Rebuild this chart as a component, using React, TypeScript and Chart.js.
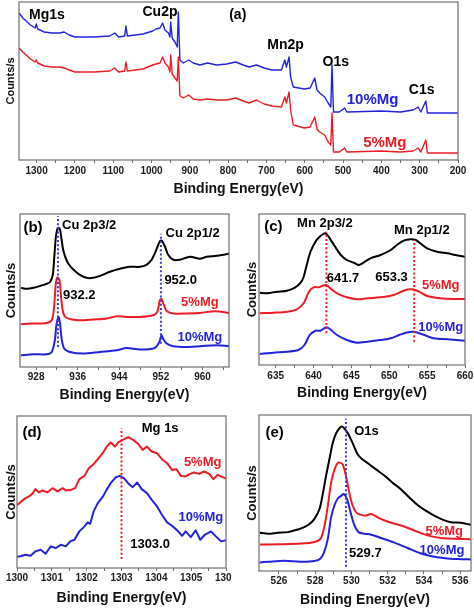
import React, { useEffect, useRef } from "react";
import { Chart, registerables } from "chart.js";

Chart.register(...registerables);

const FONT = '"Liberation Sans", Arial, Helvetica, sans-serif';
const RED = "#ec1c24";
const BLUE = "#2323dc";
const BLACK = "#000000";
const MARK_BLUE = "#3a3ad6";

type Pt = [number, number];

// ---------- (a) survey spectra ----------
const surveyTicks = [1300, 1200, 1100, 1000, 900, 800, 700, 600, 500, 400, 300, 200];
const surveyMinor = [1250, 1150, 1050, 950, 850, 750, 650, 550, 450, 350, 250];
const surveyMg10: Pt[] = [
  [1346, 147], [1336, 142], [1316, 135], [1304, 132], [1301, 136], [1297, 131], [1280, 128], [1260, 127],
  [1240, 127], [1228, 128], [1215, 125], [1200, 123], [1150, 123], [1109, 124], [1096, 127], [1086, 123],
  [1070, 124], [1067, 134], [1063, 124], [1022, 126], [997, 129], [988, 131], [978, 132], [971, 137],
  [965, 130], [956, 127], [952, 123], [950, 138], [946, 122], [939, 118], [933, 113], [930, 148],
  [926, 100], [917, 97], [903, 100], [891, 97], [874, 95], [854, 97], [830, 95], [804, 96], [780, 98],
  [761, 95], [745, 93], [726, 95], [706, 92], [686, 90], [661, 90], [652, 100], [648, 93], [641, 103],
  [637, 83], [630, 73], [601, 71], [586, 72], [574, 82], [568, 70], [561, 67], [548, 63], [539, 57],
  [532, 53], [529, 95], [525, 48], [510, 48], [496, 52], [490, 48], [400, 49], [350, 48], [317, 50],
  [304, 53], [297, 48], [284, 59], [280, 47], [200, 47],
];
const surveyMg5: Pt[] = [
  [1346, 112], [1336, 108], [1316, 101], [1304, 98], [1301, 100], [1297, 97], [1280, 94], [1260, 93],
  [1240, 93], [1228, 92], [1215, 90], [1200, 88], [1150, 88], [1109, 89], [1096, 92], [1086, 88],
  [1070, 89], [1067, 98], [1063, 89], [1022, 91], [997, 95], [988, 96], [978, 97], [971, 103],
  [965, 97], [956, 93], [952, 88], [950, 105], [946, 86], [939, 82], [933, 79], [930, 103],
  [926, 64], [917, 62], [903, 65], [891, 61], [874, 60], [854, 61], [830, 60], [804, 60], [780, 62],
  [761, 59], [745, 57], [726, 60], [706, 56], [686, 54], [661, 53], [652, 63], [648, 57], [641, 68],
  [637, 50], [630, 35], [601, 32], [586, 33], [574, 43], [568, 31], [561, 28], [548, 25], [539, 18],
  [532, 15], [529, 47], [525, 8], [510, 8], [496, 12], [490, 8], [400, 9], [350, 8], [317, 9],
  [304, 12], [297, 8], [284, 20], [280, 7], [200, 7],
];

// ---------- (b) Cu 2p ----------
const cuTicks = [928, 936, 944, 952, 960];
const cuMinor = [932, 940, 948, 956, 964];
const cuBare: Pt[] = [
  [925.1, 79], [926.2, 78], [927.5, 79], [928.8, 81], [930.0, 83], [930.7, 85], [931.2, 92], [931.5, 110],
  [931.8, 130], [932.1, 138], [932.3, 139], [932.6, 137], [932.9, 127], [933.2, 117], [933.6, 110],
  [934.2, 103], [935.2, 97], [936.4, 92], [937.7, 89], [939.0, 89], [940.3, 91], [942.2, 95], [944.1, 98],
  [946.0, 100], [948.0, 100], [949.2, 102], [950.2, 107], [950.8, 113], [951.5, 122], [951.9, 126],
  [952.2, 126], [952.8, 120], [953.4, 112], [954.4, 107], [955.6, 107], [957.6, 110], [959.5, 108],
  [960.8, 110], [962.7, 111], [965.1, 113],
];
const cuMg5: Pt[] = [
  [925.1, 42.7], [927.5, 43.4], [930.0, 44], [931.0, 46.7], [931.45, 60], [931.8, 83.4], [932.1, 89.4],
  [932.5, 86.7], [932.8, 70], [933.1, 56.7], [933.6, 50], [934.9, 47.4], [936.4, 46.7], [939.0, 47.4],
  [941.6, 48.4], [943.5, 50.7], [945.4, 50], [948.0, 50], [950.5, 51.7], [951.3, 55], [951.8, 66.7],
  [952.1, 68], [952.6, 61.7], [953.1, 56], [954.4, 53.4], [956.9, 53.4], [959.5, 54], [962.4, 55.7],
  [965.1, 54],
];
const cuMg10: Pt[] = [
  [925.1, 11.7], [927.5, 12.7], [930.0, 12.7], [931.0, 15], [931.6, 26.7], [931.9, 41.7], [932.3, 50],
  [932.6, 43.4], [932.9, 28.4], [933.4, 18.4], [934.5, 15], [937.0, 13.4], [940.3, 15], [943.5, 16.7],
  [945.4, 19], [948.0, 17.4], [950.8, 19], [951.7, 25], [952.1, 31.7], [952.4, 28.4], [953.1, 23.4],
  [954.4, 20.7], [956.9, 20], [959.5, 20.7], [962.7, 21.7], [965.1, 21],
];

// ---------- (c) Mn 2p ----------
const mnTicks = [635, 640, 645, 650, 655, 660];
const mnMinor = [637.5, 642.5, 647.5, 652.5, 657.5];
const mnBare: Pt[] = [
  [632.9, 72.3], [633.85, 71.7], [635.2, 73.3], [636.5, 74.3], [637.6, 77.7], [638.3, 82.3], [638.7, 88.3],
  [639.1, 100], [639.6, 113.3], [640.25, 123.3], [640.8, 128.3], [641.3, 131], [641.6, 131.7], [642.0, 128.3],
  [642.7, 120], [643.6, 110], [644.4, 105], [645.3, 102.3], [646.0, 100], [646.6, 102.3], [647.5, 106.7],
  [648.85, 110], [650.2, 115], [651.0, 120], [651.9, 124.3], [652.8, 125.7], [653.5, 125], [654.1, 121.7],
  [655.0, 116.7], [656.3, 113.3], [657.7, 111.7], [658.7, 110], [660.0, 108.3],
];
const mnMg5: Pt[] = [
  [632.9, 51.7], [634.7, 52.3], [636.5, 53.3], [637.8, 55.7], [638.7, 61.7], [639.4, 73.3], [640.0, 77.7],
  [640.7, 77.7], [641.1, 79], [641.7, 80], [642.2, 76.7], [643.1, 71.7], [644.4, 67.7], [645.75, 65.7],
  [647.1, 66.7], [648.85, 67.7], [650.6, 70], [651.9, 74.3], [652.8, 75.7], [653.7, 74.3], [655.0, 69],
  [656.8, 66.7], [658.5, 66], [660.0, 66],
];
const mnMg10: Pt[] = [
  [632.9, 11], [634.7, 12.3], [636.5, 13.3], [638.0, 15], [638.8, 20], [639.5, 30], [640.25, 34.3],
  [640.9, 34.3], [641.7, 37.7], [642.2, 35.7], [643.1, 30], [644.4, 25], [645.75, 22.3], [647.1, 23.3],
  [648.85, 25], [650.2, 26.7], [651.3, 30], [652.2, 32.3], [653.25, 33.3], [654.35, 30.7], [655.9, 26.7],
  [657.7, 25.7], [660.0, 24.3],
];

// ---------- (d) Mg 1s ----------
const mgTicks = [1300, 1301, 1302, 1303, 1304, 1305, 1306];
const mgMinor = [1300.5, 1301.5, 1302.5, 1303.5, 1304.5, 1305.5];
const mgMg5: Pt[] = [
  [1300.0, 63], [1300.2, 69], [1300.34, 71.7], [1300.44, 74.3], [1300.53, 79], [1300.63, 75.7],
  [1300.73, 77.7], [1300.87, 75.7], [1301.02, 80], [1301.16, 76.7], [1301.31, 80], [1301.4, 77.7],
  [1301.55, 78.3], [1301.67, 80], [1301.79, 89], [1301.94, 92.3], [1302.06, 100], [1302.18, 103.3],
  [1302.32, 109], [1302.47, 115.7], [1302.58, 121.7], [1302.69, 125.7], [1302.81, 121.7], [1302.9, 125.7],
  [1303.03, 128.3], [1303.19, 131], [1303.34, 128.3], [1303.48, 124.3], [1303.61, 118.3], [1303.73, 121.7],
  [1303.87, 116.7], [1304.02, 115], [1304.16, 109], [1304.31, 105], [1304.45, 98.3], [1304.58, 99],
  [1304.7, 92.3], [1304.84, 91.7], [1304.97, 94.3], [1305.08, 95.7], [1305.23, 94.3], [1305.37, 96.7],
  [1305.52, 94.3], [1305.64, 89], [1305.76, 93.3], [1305.91, 91], [1306.05, 89],
];
const mgMg10: Pt[] = [
  [1299.95, 11], [1300.1, 11.7], [1300.24, 13.3], [1300.39, 12.3], [1300.53, 16.7], [1300.68, 18.3],
  [1300.82, 14.3], [1300.97, 21.7], [1301.11, 20], [1301.26, 23.3], [1301.4, 21.7], [1301.53, 26.7],
  [1301.65, 28.3], [1301.79, 36.7], [1301.94, 41.7], [1302.03, 45.7], [1302.1, 44.3], [1302.2, 56.7],
  [1302.32, 65], [1302.47, 71.7], [1302.57, 78.3], [1302.69, 85], [1302.84, 91], [1302.95, 92.3],
  [1303.07, 90], [1303.19, 85], [1303.32, 81], [1303.45, 85.7], [1303.58, 79], [1303.73, 75],
  [1303.87, 68.3], [1304.02, 61.7], [1304.16, 53.3], [1304.31, 45.7], [1304.45, 42.3], [1304.6, 37.7],
  [1304.74, 32.3], [1304.84, 36.7], [1304.99, 31], [1305.13, 37.7], [1305.26, 28.3], [1305.39, 33.3],
  [1305.57, 36.7], [1305.71, 31.7], [1305.86, 26.7], [1306.05, 28.3],
];

// ---------- (e) O 1s ----------
const oTicks = [526, 528, 530, 532, 534, 536];
const oMinor = [527, 529, 531, 533, 535];
const oBare: Pt[] = [
  [524.94, 38.7], [525.4, 37.7], [525.95, 38.7], [526.5, 39.3], [527.05, 42], [527.4, 44.3], [527.7, 47.7],
  [527.96, 52.7], [528.24, 62.7], [528.4, 76], [528.6, 96], [528.8, 114.3], [528.97, 129.3], [529.16, 139.3],
  [529.34, 144.3], [529.47, 146], [529.6, 144.3], [529.8, 139.3], [530.07, 129.3], [530.35, 117.7],
  [530.62, 112.7], [531.0, 107.7], [531.36, 102.7], [531.8, 96.7], [532.27, 89.3], [532.73, 82.7],
  [533.2, 74.3], [533.65, 66.7], [534.1, 61], [534.57, 56], [535.03, 52], [535.49, 49.3], [536.04, 48.7],
  [536.6, 46.7],
];
const oMg5: Pt[] = [
  [524.94, 26.7], [525.95, 27], [527.23, 27.7], [527.96, 29.3], [528.3, 32.7], [528.5, 44.3], [528.7, 66],
  [528.88, 89.3], [529.07, 102.7], [529.25, 109.3], [529.4, 109.3], [529.52, 107.7], [529.7, 96],
  [529.9, 77.7], [530.07, 66], [530.26, 59.3], [530.53, 56.7], [530.8, 56], [531.09, 57.7], [531.45, 54.3],
  [532.0, 50], [532.73, 46], [533.47, 41], [534.2, 36], [534.94, 33.3], [535.67, 32.7], [536.6, 32],
];
const oMg10: Pt[] = [
  [524.94, 8.7], [525.4, 9.3], [526.3, 10.3], [527.2, 9.3], [527.96, 10], [528.3, 12.7], [528.5, 19.3],
  [528.7, 32.7], [528.88, 54.3], [529.07, 66.7], [529.25, 73.3], [529.43, 76], [529.58, 77.7], [529.76, 72.7],
  [529.95, 59.3], [530.17, 46], [530.39, 39.3], [530.72, 37.7], [531.09, 36.7], [531.64, 33.3],
  [532.37, 28.7], [533.1, 23.3], [533.84, 17.7], [534.57, 14.3], [535.3, 12.7], [536.04, 12], [536.6, 11.7],
];

type Label = { text: string; x: number; y: number; color: string; size: number };
type Marker = { x: number; y0: number; y1: number; color: string };
type Series = { label: string; data: Pt[]; color: string; width: number; tension: number };

interface PanelSpec {
  id: string;
  canvas: { left: number; top: number; width: number; height: number };
  plot: { L: number; T: number; R: number; B: number };
  xMin: number;
  xMax: number;
  reverse: boolean;
  yMax: number;
  major: number[];
  minor: number[];
  tickPad: number;
  xTitleY: number;
  yTitleX: number;
  yTitleSize: number;
  series: Series[];
  labels: Label[];
  markers: Marker[];
}

const PANELS: PanelSpec[] = [
  {
    id: "a",
    canvas: { left: 0, top: 0, width: 474, height: 200 },
    plot: { L: 19, T: 2, R: 458, B: 160 },
    xMin: 200, xMax: 1346, reverse: true, yMax: 158,
    major: surveyTicks, minor: surveyMinor, tickPad: 2, xTitleY: 189, yTitleX: 11, yTitleSize: 11,
    series: [
      { label: "10%Mg", data: surveyMg10, color: BLUE, width: 1.4, tension: 0 },
      { label: "5%Mg", data: surveyMg5, color: RED, width: 1.4, tension: 0 },
    ],
    labels: [
      { text: "Mg1s", x: 1273, y: 145, color: BLACK, size: 14 },
      { text: "Cu2p", x: 978, y: 148, color: BLACK, size: 14 },
      { text: "(a)", x: 775, y: 145, color: BLACK, size: 14 },
      { text: "Mn2p", x: 650, y: 115, color: BLACK, size: 14 },
      { text: "O1s", x: 519, y: 98, color: BLACK, size: 14 },
      { text: "10%Mg", x: 423, y: 60, color: BLUE, size: 15 },
      { text: "C1s", x: 295, y: 70, color: BLACK, size: 14 },
      { text: "5%Mg", x: 391, y: 17, color: RED, size: 15 },
    ],
    markers: [],
  },
  {
    id: "b",
    canvas: { left: 0, top: 200, width: 236, height: 205 },
    plot: { L: 20, T: 214, R: 229, B: 367 },
    xMin: 924.9, xMax: 965.1, reverse: false, yMax: 152.7,
    major: cuTicks, minor: cuMinor, tickPad: 1, xTitleY: 395, yTitleX: 11, yTitleSize: 13,
    series: [
      { label: "undoped", data: cuBare, color: BLACK, width: 2, tension: 0.3 },
      { label: "5%Mg", data: cuMg5, color: RED, width: 2, tension: 0.3 },
      { label: "10%Mg", data: cuMg10, color: BLUE, width: 2, tension: 0.3 },
    ],
    labels: [
      { text: "(b)", x: 927.4, y: 138.7, color: BLACK, size: 15 },
      { text: "Cu 2p3/2", x: 938.2, y: 141.7, color: BLACK, size: 13 },
      { text: "Cu 2p1/2", x: 958.1, y: 133.7, color: BLACK, size: 13 },
      { text: "932.2", x: 936.3, y: 71.7, color: BLACK, size: 13 },
      { text: "952.0", x: 955.8, y: 86.7, color: BLACK, size: 13 },
      { text: "5%Mg", x: 959.5, y: 64.7, color: RED, size: 13 },
      { text: "10%Mg", x: 959.5, y: 29.7, color: BLUE, size: 13 },
    ],
    markers: [
      { x: 932.2, y0: 20, y1: 150.7, color: MARK_BLUE },
      { x: 952.0, y0: 23.3, y1: 133, color: MARK_BLUE },
    ],
  },
  {
    id: "c",
    canvas: { left: 238, top: 200, width: 236, height: 205 },
    plot: { L: 259, T: 214, R: 465, B: 365 },
    xMin: 632.8, xMax: 660, reverse: false, yMax: 151,
    major: mnTicks, minor: mnMinor, tickPad: 2, xTitleY: 393, yTitleX: 252, yTitleSize: 13,
    series: [
      { label: "undoped", data: mnBare, color: BLACK, width: 2, tension: 0.3 },
      { label: "5%Mg", data: mnMg5, color: RED, width: 2, tension: 0.3 },
      { label: "10%Mg", data: mnMg10, color: BLUE, width: 2, tension: 0.3 },
    ],
    labels: [
      { text: "(c)", x: 634.7, y: 138, color: BLACK, size: 15 },
      { text: "Mn 2p3/2", x: 641.5, y: 142, color: BLACK, size: 13 },
      { text: "Mn 2p1/2", x: 654.3, y: 135, color: BLACK, size: 13 },
      { text: "641.7", x: 643.9, y: 87, color: BLACK, size: 13 },
      { text: "653.3", x: 650.3, y: 88, color: BLACK, size: 13 },
      { text: "5%Mg", x: 656.8, y: 80, color: RED, size: 13 },
      { text: "10%Mg", x: 656.8, y: 38, color: BLUE, size: 13 },
    ],
    markers: [
      { x: 641.7, y0: 31.7, y1: 133.3, color: RED },
      { x: 653.3, y0: 23.3, y1: 125, color: RED },
    ],
  },
  {
    id: "d",
    canvas: { left: 0, top: 405, width: 231, height: 206 },
    plot: { L: 17, T: 416, R: 226, B: 568 },
    xMin: 1300, xMax: 1306, reverse: false, yMax: 152.3,
    major: mgTicks, minor: mgMinor, tickPad: 1, xTitleY: 598, yTitleX: 11, yTitleSize: 13,
    series: [
      { label: "5%Mg", data: mgMg5, color: RED, width: 2, tension: 0 },
      { label: "10%Mg", data: mgMg10, color: BLUE, width: 2, tension: 0 },
    ],
    labels: [
      { text: "(d)", x: 1300.43, y: 135.3, color: BLACK, size: 15 },
      { text: "Mg 1s", x: 1304.11, y: 140.3, color: BLACK, size: 13 },
      { text: "5%Mg", x: 1305.33, y: 105.3, color: RED, size: 13 },
      { text: "10%Mg", x: 1305.28, y: 50.3, color: BLUE, size: 13 },
      { text: "1303.0", x: 1303.82, y: 23.3, color: BLACK, size: 13 },
    ],
    markers: [{ x: 1303.0, y0: 9, y1: 140, color: RED }],
  },
  {
    id: "e",
    canvas: { left: 238, top: 405, width: 236, height: 206 },
    plot: { L: 259, T: 415, R: 471, B: 571 },
    xMin: 524.9, xMax: 536.6, reverse: false, yMax: 157.7,
    major: oTicks, minor: oMinor, tickPad: 1, xTitleY: 600, yTitleX: 252, yTitleSize: 13,
    series: [
      { label: "undoped", data: oBare, color: BLACK, width: 2, tension: 0.3 },
      { label: "5%Mg", data: oMg5, color: RED, width: 2, tension: 0.3 },
      { label: "10%Mg", data: oMg10, color: BLUE, width: 2, tension: 0.3 },
    ],
    labels: [
      { text: "(e)", x: 525.76, y: 139.7, color: BLACK, size: 15 },
      { text: "O1s", x: 530.83, y: 140.7, color: BLACK, size: 13 },
      { text: "5%Mg", x: 535.12, y: 39.7, color: RED, size: 13 },
      { text: "10%Mg", x: 535.0, y: 20.7, color: BLUE, size: 13 },
      { text: "529.7", x: 530.77, y: 17.7, color: BLACK, size: 13 },
    ],
    markers: [{ x: 529.7, y0: 4.3, y1: 154, color: MARK_BLUE }],
  },
];

function Panel({ spec }: { spec: PanelSpec }) {
  const ref = useRef<HTMLCanvasElement | null>(null);
  const c = spec.canvas;
  useEffect(() => {
    const p = spec.plot;
    const xAxisH = c.top + c.height - p.B;
    const yAxisW = p.L - c.left;
    const titleLH = 14 * 1.2;
    const yLH = spec.yTitleSize * 1.2;
    const ticksAll = [...spec.major, ...spec.minor].sort((a, b) => a - b);

    const decor = {
      id: "decor_" + spec.id,
      afterDatasetsDraw(chart: any) {
        const { ctx, chartArea: a, scales } = chart;
        const xs = scales.x;
        const ys = scales.y;
        ctx.save();
        ctx.lineWidth = 2;
        ctx.setLineDash([2, 2.2]);
        for (const m of spec.markers) {
          const px = xs.getPixelForValue(m.x);
          ctx.strokeStyle = m.color;
          ctx.beginPath();
          ctx.moveTo(px, ys.getPixelForValue(m.y0));
          ctx.lineTo(px, ys.getPixelForValue(m.y1));
          ctx.stroke();
        }
        ctx.setLineDash([]);
        ctx.strokeStyle = "#6e6e6e";
        ctx.lineWidth = 1.2;
        ctx.strokeRect(a.left, a.top, a.right - a.left, a.bottom - a.top);
        ctx.textAlign = "center";
        ctx.textBaseline = "middle";
        for (const l of spec.labels) {
          ctx.font = `bold ${l.size}px ${FONT}`;
          ctx.fillStyle = l.color;
          ctx.fillText(l.text, xs.getPixelForValue(l.x), ys.getPixelForValue(l.y));
        }
        ctx.restore();
      },
    };

    const chart = new Chart(ref.current as HTMLCanvasElement, {
      type: "line",
      data: {
        datasets: spec.series.map((s) => ({
          label: s.label,
          data: s.data.map(([x, y]) => ({ x, y })),
          borderColor: s.color,
          backgroundColor: s.color,
          borderWidth: s.width,
          pointRadius: 0,
          tension: s.tension,
          fill: false,
          borderJoinStyle: "round" as const,
        })),
      },
      options: {
        responsive: false,
        animation: false,
        layout: { padding: { left: 0, top: p.T - c.top, right: c.left + c.width - p.R, bottom: 0 } },
        plugins: { legend: { display: false }, tooltip: { enabled: false } },
        scales: {
          x: {
            type: "linear",
            min: spec.xMin,
            max: spec.xMax,
            reverse: spec.reverse,
            afterBuildTicks: (s: any) => {
              s.ticks = ticksAll.map((v) => ({ value: v }));
            },
            afterFit: (s: any) => {
              s.height = xAxisH;
              s.paddingLeft = 0;
              s.paddingRight = 0;
            },
            ticks: {
              autoSkip: false,
              maxRotation: 0,
              padding: spec.tickPad,
              color: "#1a1a1a",
              font: { family: FONT, size: 10, weight: "bold", lineHeight: 1.2 },
              callback: (v: any) => (spec.major.includes(Number(v)) ? String(v) : ""),
            },
            grid: { drawOnChartArea: false, drawTicks: true, tickLength: 3, color: "#6e6e6e", tickColor: "#6e6e6e" },
            border: { display: false },
            title: {
              display: true,
              text: "Binding Energy(eV)",
              color: "#111",
              font: { family: FONT, size: 14, weight: "bold", lineHeight: 1.2 },
              padding: { top: 0, bottom: c.top + c.height - spec.xTitleY - titleLH / 2 },
            },
          },
          y: {
            type: "linear",
            min: 0,
            max: spec.yMax,
            afterFit: (s: any) => {
              s.width = yAxisW;
            },
            ticks: { display: false },
            grid: { display: false },
            border: { display: false },
            title: {
              display: true,
              text: "Counts/s",
              color: "#111",
              font: { family: FONT, size: spec.yTitleSize, weight: "bold", lineHeight: 1.2 },
              padding: { top: spec.yTitleX - c.left - yLH / 2, bottom: 0 },
            },
          },
        },
      } as any,
      plugins: [decor],
    });
    return () => chart.destroy();
  }, [spec]);

  return (
    <canvas
      ref={ref}
      width={c.width}
      height={c.height}
      style={{ position: "absolute", left: c.left, top: c.top, width: c.width, height: c.height }}
    />
  );
}

export default function App() {
  return (
    <div
      style={{
        position: "absolute",
        left: 0,
        top: 0,
        width: 474,
        height: 611,
        background: "#ffffff",
        overflow: "hidden",
      }}
    >
      {PANELS.map((s) => (
        <Panel key={s.id} spec={s} />
      ))}
    </div>
  );
}
